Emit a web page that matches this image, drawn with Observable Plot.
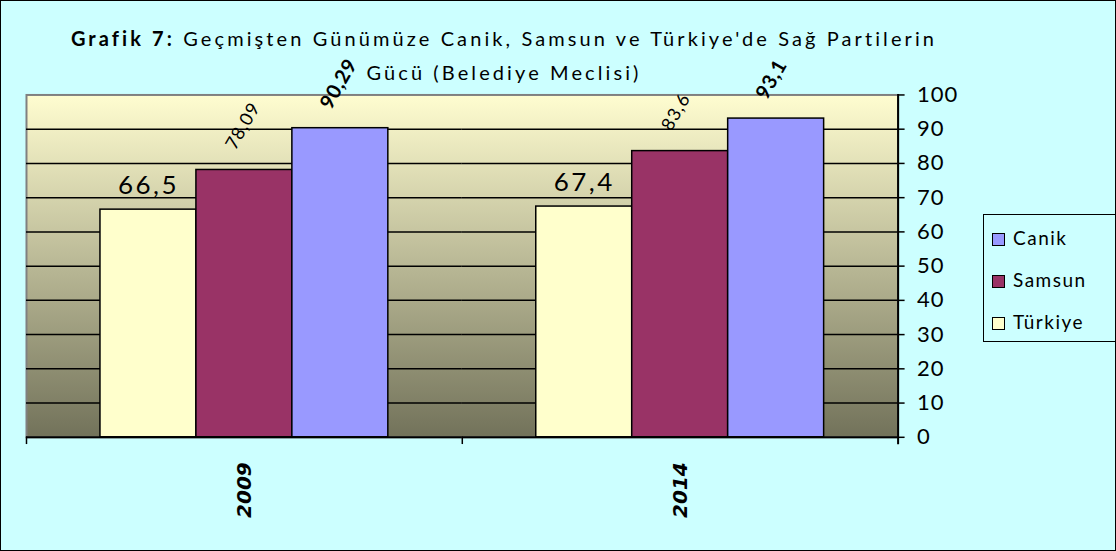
<!DOCTYPE html>
<html><head><meta charset="utf-8">
<script src="https://cdn.jsdelivr.net/npm/d3@7"></script>
<script src="https://cdn.jsdelivr.net/npm/@observablehq/plot@0.6"></script>
<style>
body{margin:0;}
#chart{position:relative;width:1116px;height:551px;background:#ccffff;box-sizing:border-box;border:1.5px solid #000;overflow:hidden;font-family:Lato, sans-serif;color:#000;}
#title{position:absolute;left:0;top:20px;width:1006px;text-align:center;font-size:20px;line-height:34px;letter-spacing:3.1px;}
#plot{position:absolute;left:-1.5px;top:-1.5px;}
#legend{position:absolute;left:982px;top:213px;width:150px;height:128px;border:1.5px solid #000;box-sizing:border-box;}
.item{position:absolute;left:8px;height:24px;line-height:24px;font-size:19px;letter-spacing:1.5px;white-space:nowrap;}
.sw{display:inline-block;width:11px;height:11px;border:1.5px solid #000;margin-right:8px;vertical-align:-1px;}
</style>
</head><body>
<div id="chart">
  <div id="plot"></div>
  <div id="title"><b>Grafik 7:</b> Geçmişten Günümüze Canik, Samsun ve Türkiye'de Sağ Partilerin<br>Gücü (Belediye Meclisi)</div>
  <div id="legend"></div>
</div>
<script>
const years = ["2009", "2014"];
const series = ["Türkiye", "Samsun", "Canik"];
const turkiye = [66.5, 67.4];
const samsun = [78.09, 83.6];
const canik = [90.29, 93.1];
const seriesColors = ["#ffffcc", "#993366", "#9999ff"];
const yTicks = [0, 10, 20, 30, 40, 50, 60, 70, 80, 90, 100];
const gridValues = [10, 20, 30, 40, 50, 60, 70, 80, 90];

const valuesBySeries = {"Türkiye": turkiye, "Samsun": samsun, "Canik": canik};
const rows = [];
years.forEach((yr, i) => series.forEach(s => rows.push({year: yr, series: s, value: valuesBySeries[s][i]})));
const fmt = v => String(v).replace(".", ",");

const W = 1116, H = 551, mt = 94.5, mb = 114, ml = 25, mr = 218;
const ph = H - mt - mb;

const plot = Plot.plot({
  width: W, height: H, marginTop: mt, marginBottom: mb, marginLeft: ml, marginRight: mr,
  style: {background: "transparent", fontFamily: "Lato, sans-serif", overflow: "visible", color: "#000"},
  fx: {domain: years, padding: 0, label: null},
  x: {domain: series, paddingInner: 0, paddingOuter: 0.76, axis: null, label: null},
  y: {domain: [0, 100], axis: null},
  color: {domain: series, range: seriesColors},
  marks: [
    Plot.frame({fill: "url(#bgGrad)", stroke: "#808080", strokeWidth: 2, facet: "super"}),
    Plot.ruleY(gridValues, {stroke: "#000", strokeWidth: 1.5}),
    Plot.barY(rows, {fx: "year", x: "series", y: "value", fill: "series", stroke: "#000", strokeWidth: 1.5}),
    Plot.ruleY([0], {stroke: "#000", strokeWidth: 2}),
    Plot.frame({anchor: "right", stroke: "#000", strokeWidth: 2, insetBottom: -6, facet: "super"}),
    Plot.frame({anchor: "left", stroke: "#000", strokeWidth: 1.5, insetTop: ph, insetBottom: -6}),
    Plot.axisY({anchor: "right", ticks: yTicks, tickSize: 6, tickPadding: 13, fontSize: 22, tickFormat: d => String(d), stroke: "#000", strokeWidth: 1.5, label: null}),
    Plot.axisFx({anchor: "bottom", tickSize: 0, tickPadding: 25, tickRotate: -90, fontSize: 20, fontWeight: "bold", fontStyle: "italic", fontFamily: "DejaVu Sans", label: null}),
    Plot.text(rows.filter(d => d.series === "Türkiye"), {fx: "year", x: "series", y: "value", text: d => fmt(d.value), textAnchor: "middle", lineAnchor: "bottom", dy: -16, fontSize: 26, ariaDescription: "tr-labels"}),
    Plot.text(rows.filter(d => d.series === "Samsun"), {fx: "year", x: "series", y: "value", text: d => fmt(d.value), rotate: -60, textAnchor: "start", lineAnchor: "middle", dx: -14, dy: -22, fontSize: 18, ariaDescription: "sm-labels"}),
    Plot.text(rows.filter(d => d.series === "Canik"), {fx: "year", x: "series", y: "value", text: d => fmt(d.value), rotate: -60, textAnchor: "start", lineAnchor: "middle", dx: -15, dy: -21, fontSize: 20, fontWeight: "bold", ariaDescription: "ck-labels"})
  ]
});

const svg = d3.select(plot);
svg.insert("defs", ":first-child").html(
  '<linearGradient id="bgGrad" x1="0" y1="0" x2="0" y2="1">' +
  '<stop offset="0" stop-color="#fffdd0"/>' +
  '<stop offset="1" stop-color="#72725a"/>' +
  '</linearGradient>');
svg.selectAll('g[aria-description="tr-labels"] text').style("letter-spacing", "2.5px");
svg.selectAll('g[aria-description="sm-labels"] text').style("letter-spacing", "1px");
svg.selectAll('g[aria-description="ck-labels"] text').style("letter-spacing", "0.5px");
svg.selectAll('g[aria-label="y-axis tick label"] text').style("letter-spacing", "1px");
document.getElementById("plot").appendChild(plot);

const legend = d3.select("#legend");
series.slice().reverse().forEach((s, i) => {
  const item = legend.append("div").attr("class", "item").style("top", (11 + i * 42) + "px");
  item.append("span").attr("class", "sw").style("background", seriesColors[series.indexOf(s)]);
  item.append("span").text(s);
});
</script>
</body></html>
